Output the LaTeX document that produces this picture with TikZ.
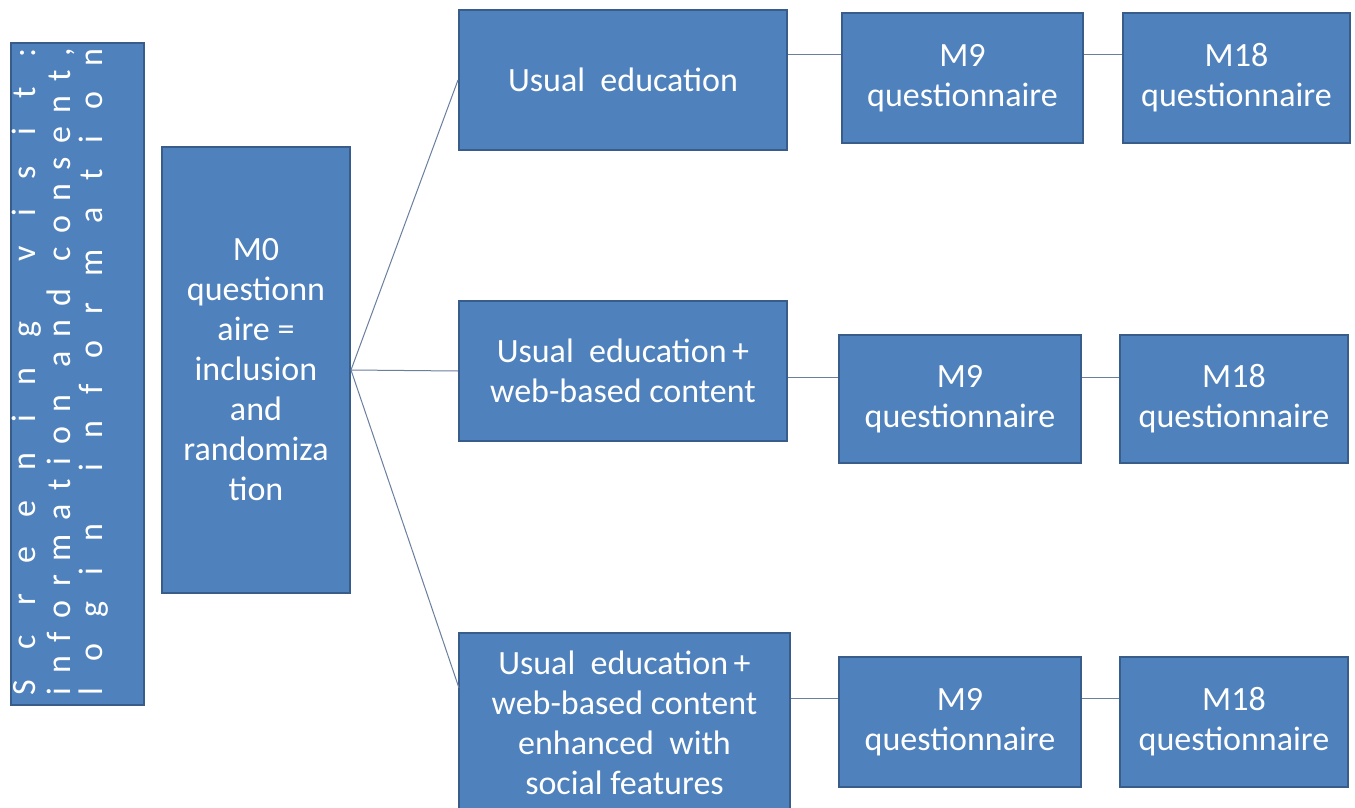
\documentclass[tikz,border=0pt]{standalone}
\usepackage{fontspec}
\setmainfont{Carlito}
\definecolor{boxfill}{HTML}{4F81BD}
\definecolor{boxedge}{HTML}{385D8A}
\definecolor{linkcol}{HTML}{6A7F9E}
\newcommand\spreadtext[1]{\hbox to 647pt{#1}}
\begin{document}
\begin{tikzpicture}[x=1pt,y=-1pt,
  box/.style={draw=boxedge, fill=boxfill, line width=2pt, text=white, align=center,
    inner sep=0pt, font=\fontsize{34}{40}\selectfont},
  vtext/.style={rotate=90, anchor=base, text=white, inner sep=0pt,
    font=\fontsize{34}{40}\selectfont},
  link/.style={draw=linkcol, line width=1pt}]
\useasboundingbox (0,0) rectangle (1355,808);
\fill[white] (0,0) rectangle (1355,808);

% left vertical box
\node[box, minimum width=133pt, minimum height=662pt] (screen) at (77.5,374) {};
\node[vtext] (s1) at (35,371.5) {\spreadtext{S\hfill c\hfill r\hfill e\hfill e\hfill n\hfill i\hfill n\hfill g\hfill\hfill v\hfill i\hfill s\hfill i\hfill t\hfill :}};
\node[vtext] (s2) at (70,371.5) {\spreadtext{i\hfill n\hfill f\hfill o\hfill r\hfill m\hfill a\hfill t\hfill i\hfill o\hfill n\hfill\hfill a\hfill n\hfill d\hfill\hfill c\hfill o\hfill n\hfill s\hfill e\hfill n\hfill t\hfill ,}};
\node[vtext] (s3) at (102,371.5) {\spreadtext{l\hfill o\hfill g\hfill i\hfill n\hfill\hfill i\hfill n\hfill f\hfill o\hfill r\hfill m\hfill a\hfill t\hfill i\hfill o\hfill n}};

% M0 box
\node[box, minimum width=188pt, minimum height=446pt] (m0) at (256,370)
  {M0\\questionn\\aire =\\inclusion\\and\\randomiza\\tion};

% arms
\node[box, minimum width=328pt, minimum height=140pt] (u1) at (623,80) {Usual\ \ education};
\node[box, minimum width=328pt, minimum height=140pt] (u2) at (623,371) {Usual\ \ education\,+\\web-based content};
\node[box, minimum width=331pt, minimum height=179pt] (u3) at (624.5,722.5) {Usual\ \ education\,+\\web-based content\\enhanced\ \ with\\social features};

% follow-up boxes
\node[box, minimum width=241pt, minimum height=130pt] (m9a) at (962.5,78) {M9\\questionnaire};
\node[box, minimum width=227pt, minimum height=130pt] (m18a) at (1236.5,78) {M18\\questionnaire};
\node[box, minimum width=242pt, minimum height=128pt] (m9b) at (960,399) {M9\\questionnaire};
\node[box, minimum width=228pt, minimum height=128pt] (m18b) at (1234,399) {M18\\questionnaire};
\node[box, minimum width=242pt, minimum height=130pt] (m9c) at (960,722) {M9\\questionnaire};
\node[box, minimum width=228pt, minimum height=130pt] (m18c) at (1234,722) {M18\\questionnaire};

% connector helper coordinates
\coordinate (r1) at (0,55);
\coordinate (r2) at (0,377);
\coordinate (r3) at (0,698);
\coordinate (c3) at (459,688);

% connectors
\draw[link] (m0.east) -- (u1.west);
\draw[link] (m0.east) -- (u2.west);
\draw[link] (m0.east) -- (c3);
\draw[link] (u1.east |- r1) -- (m9a.west |- r1);
\draw[link] (m9a.east |- r1) -- (m18a.west |- r1);
\draw[link] (u2.east |- r2) -- (m9b.west |- r2);
\draw[link] (m9b.east |- r2) -- (m18b.west |- r2);
\draw[link] (u3.east |- r3) -- (m9c.west |- r3);
\draw[link] (m9c.east |- r3) -- (m18c.west |- r3);
\end{tikzpicture}
\end{document}
